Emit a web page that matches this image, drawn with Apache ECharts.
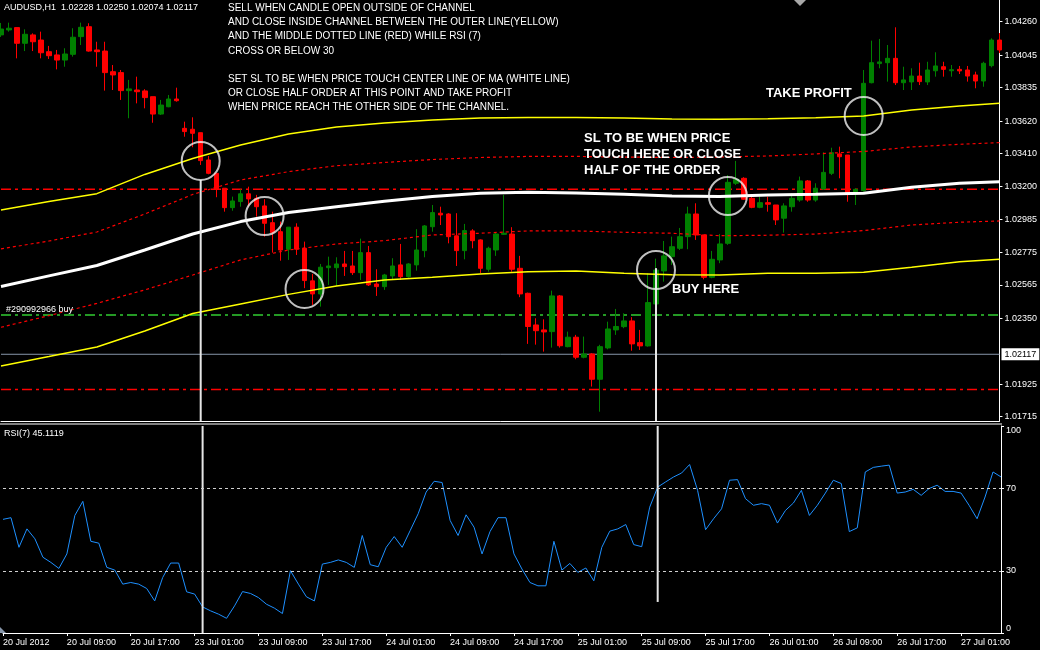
<!DOCTYPE html>
<html>
<head>
<meta charset="utf-8">
<script src="https://cdn.jsdelivr.net/npm/echarts@6/dist/echarts.min.js"></script>
<style>
html,body{margin:0;padding:0;background:#000;}
#c{width:1040px;height:650px;}
</style>
</head>
<body>
<div id="c"></div>
<script>
// ---- time categories (hourly bars, weekend skipped) ----
const dayRanges = [['20 Jul',1,23],['23 Jul',0,23],['24 Jul',0,23],['25 Jul',0,23],['26 Jul',0,23],['27 Jul',0,6]];
const categories = [];
dayRanges.forEach(([d,a,b]) => { for (let h=a; h<=b; h++) categories.push(d + ' ' + String(h).padStart(2,'0') + ':00'); });
const firstTickLabel = '20 Jul 2012';

// ---- OHLC (AUDUSD H1) ----
const open = [1.04175,1.04207,1.04222,1.04121,1.04175,1.04142,1.04067,1.04046,1.04013,1.04050,
1.04164,1.04228,1.04078,1.04071,1.03938,1.03932,1.03816,1.03820,1.03814,1.03777,
1.03665,1.03712,1.03762,1.03573,1.03567,1.03545,1.03369,1.03283,1.03187,1.03062,
1.03101,1.03151,1.03122,1.03073,1.02965,1.02907,1.02794,1.02936,1.02800,1.02590,
1.02506,1.02675,1.02675,1.02699,1.02686,1.02643,1.02772,1.02570,1.02553,1.02622,
1.02693,1.02617,1.02693,1.02785,1.02939,1.03026,1.03021,1.02880,1.02785,1.02912,
1.02854,1.02665,1.02789,1.02890,1.02892,1.02671,1.02510,1.02306,1.02274,1.02263,
1.02493,1.02166,1.02227,1.02098,1.02119,1.01956,1.02158,1.02274,1.02295,1.02332,
1.02192,1.02171,1.02441,1.02654,1.02746,1.02800,1.02875,1.03021,1.02886,1.02613,
1.02725,1.02832,1.03219,1.03251,1.03122,1.03064,1.03094,1.03079,1.02994,1.03068,
1.03111,1.03234,1.03111,1.03182,1.03283,1.03408,1.03401,1.03155,1.03171,1.03867,
1.03990,1.03996,1.04024,1.03867,1.03872,1.03910,1.03872,1.03944,1.03970,1.03944,
1.03953,1.03949,1.03917,1.03878,1.03977,1.04142];
const close = [1.04213,1.04218,1.04121,1.04179,1.04131,1.04060,1.04041,1.04013,1.04052,1.04160,
1.04224,1.04071,1.04067,1.03932,1.03917,1.03816,1.03827,1.03809,1.03771,1.03665,
1.03723,1.03762,1.03751,1.03552,1.03541,1.03365,1.03283,1.03182,1.03062,1.03105,
1.03151,1.03118,1.03068,1.02961,1.02901,1.02789,1.02936,1.02794,1.02592,1.02506,
1.02678,1.02686,1.02699,1.02682,1.02643,1.02772,1.02564,1.02553,1.02628,1.02686,
1.02617,1.02699,1.02789,1.02944,1.03030,1.03015,1.02875,1.02785,1.02914,1.02849,
1.02671,1.02800,1.02892,1.02897,1.02665,1.02506,1.02296,1.02269,1.02261,1.02493,
1.02172,1.02227,1.02098,1.02119,1.01956,1.02166,1.02280,1.02296,1.02332,1.02184,
1.02171,1.02450,1.02660,1.02751,1.02810,1.02875,1.03021,1.02886,1.02613,1.02729,
1.02828,1.03225,1.03245,1.03116,1.03064,1.03094,1.03084,1.02983,1.03073,1.03122,
1.03234,1.03111,1.03187,1.03289,1.03416,1.03390,1.03155,1.03180,1.03863,1.03996,
1.04001,1.04024,1.03867,1.03885,1.03910,1.03874,1.03949,1.03975,1.03953,1.03951,
1.03943,1.03910,1.03878,1.03992,1.04142,1.04078];
const low = [1.04162,1.04196,1.04024,1.04071,1.04071,1.04024,1.04020,1.03953,1.03970,1.04035,
1.04110,1.04067,1.03970,1.03816,1.03820,1.03756,1.03638,1.03734,1.03702,1.03609,
1.03659,1.03709,1.03745,1.03519,1.03451,1.03337,1.03277,1.03129,1.03036,1.03042,
1.03068,1.03068,1.03004,1.02875,1.02772,1.02720,1.02725,1.02757,1.02543,1.02435,
1.02424,1.02564,1.02557,1.02622,1.02628,1.02596,1.02557,1.02493,1.02532,1.02596,
1.02596,1.02611,1.02656,1.02742,1.02907,1.02950,1.02832,1.02686,1.02729,1.02800,
1.02639,1.02649,1.02751,1.02886,1.02649,1.02485,1.02184,1.02179,1.02134,1.02160,
1.02160,1.02162,1.02085,1.02091,1.01909,1.01747,1.02149,1.02242,1.02285,1.02140,
1.02145,1.02166,1.02385,1.02585,1.02693,1.02789,1.02794,1.02854,1.02600,1.02607,
1.02704,1.02822,1.03208,1.03111,1.03058,1.03058,1.03036,1.02950,1.02901,1.03036,
1.03100,1.03100,1.03100,1.03176,1.03272,1.03251,1.03100,1.03079,1.03165,1.03863,
1.03960,1.03874,1.03852,1.03820,1.03820,1.03852,1.03852,1.03906,1.03906,1.03906,
1.03923,1.03874,1.03831,1.03841,1.03966,1.04058];
const high = [1.04252,1.04254,1.04222,1.04211,1.04185,1.04196,1.04104,1.04078,1.04089,1.04218,
1.04254,1.04250,1.04131,1.04131,1.03981,1.03949,1.03885,1.03906,1.03825,1.03777,
1.03756,1.03788,1.03835,1.03616,1.03644,1.03545,1.03395,1.03283,1.03187,1.03133,
1.03180,1.03197,1.03144,1.03116,1.03036,1.02972,1.02936,1.02961,1.02843,1.02635,
1.02699,1.02746,1.02742,1.02783,1.02783,1.02862,1.02815,1.02665,1.02635,1.02736,
1.02828,1.02704,1.02923,1.02950,1.03079,1.03068,1.03026,1.03026,1.02957,1.02923,
1.02858,1.02810,1.02901,1.03144,1.02936,1.02751,1.02514,1.02349,1.02342,1.02527,
1.02499,1.02263,1.02242,1.02231,1.02124,1.02178,1.02327,1.02409,1.02381,1.02356,
1.02274,1.02639,1.02733,1.02847,1.02875,1.02931,1.03068,1.03090,1.02886,1.02783,
1.02892,1.03272,1.03363,1.03258,1.03133,1.03133,1.03133,1.03079,1.03090,1.03155,
1.03262,1.03240,1.03219,1.03419,1.03448,1.03455,1.03401,1.03187,1.03949,1.04138,
1.04149,1.04110,1.04224,1.03970,1.03960,1.03996,1.04002,1.04063,1.04002,1.03981,
1.03975,1.03975,1.03938,1.04002,1.04153,1.04187];

// ---- moving average channel, read at every 6th bar ----
const maIdx   = [0,6,12,18,24,30,36,42,48,54,60,66,72,78,84,90,96,102,108,114,120,125];
const maMid   = [1.02554,1.02622,1.02689,1.02789,1.02892,1.02972,1.03031,1.03068,1.03103,1.03133,1.03155,1.03161,1.03157,1.03148,1.03137,1.03133,1.03144,1.03148,1.03155,1.03193,1.03219,1.03229];
const envUp1  = [1.02796,1.02847,1.02905,1.03021,1.03147,1.03240,1.03294,1.03332,1.03353,1.03372,1.03385,1.03392,1.03392,1.03388,1.03385,1.03388,1.03395,1.03408,1.03424,1.03453,1.03470,1.03481];
const envLo1  = [1.02291,1.02366,1.02445,1.02532,1.02628,1.02725,1.02789,1.02828,1.02849,1.02886,1.02897,1.02912,1.02912,1.02903,1.02897,1.02881,1.02884,1.02892,1.02914,1.02950,1.02968,1.02976];
const envUp2  = [1.03047,1.03101,1.03152,1.03276,1.03379,1.03466,1.03537,1.03582,1.03608,1.03627,1.03640,1.03643,1.03643,1.03640,1.03633,1.03631,1.03635,1.03642,1.03653,1.03691,1.03717,1.03734];
const envLo2  = [1.02042,1.02102,1.02164,1.02267,1.02380,1.02441,1.02503,1.02557,1.02596,1.02613,1.02635,1.02649,1.02654,1.02639,1.02630,1.02628,1.02639,1.02639,1.02646,1.02678,1.02714,1.02729];

// ---- RSI(7) ----
const rsi = [54.9,55.7,41.4,50.3,45.5,36.6,34.1,31.2,38.2,56.8,
63.6,44.3,43.4,31.7,30.4,23.6,24.4,23.6,21.5,15.5,
26.8,33.8,33.8,19.9,18.8,12.6,10.7,9.1,7.1,13.1,
20.0,19.1,17.1,13.9,12.0,9.4,30.1,23.6,17.5,15.5,
33.3,34.1,35.3,34.1,31.7,47.1,33.0,32.0,41.4,46.6,
41.4,49.5,57.6,68.1,73.3,72.7,54.4,47.1,57.1,51.1,
38.2,49.0,55.7,55.7,38.2,30.9,24.4,22.8,22.8,44.3,
30.4,33.6,29.3,31.4,25.2,41.4,49.2,50.3,52.4,42.7,
41.7,60.8,70.5,73.0,75.4,77.3,81.4,68.9,49.9,55.2,
60.0,73.8,74.1,64.9,61.7,62.5,61.7,53.1,59.2,62.8,
68.9,56.8,61.7,67.6,73.8,72.2,49.0,50.8,77.8,80.0,
80.6,81.1,67.6,68.1,69.4,66.5,69.8,71.4,68.4,68.4,
67.6,61.7,55.2,65.7,77.8,75.4];
const rsiLevels = [30, 70];

// ---- axis ticks / levels / annotations ----
const priceTicks = [1.04260,1.04045,1.03835,1.03620,1.03410,1.03200,1.02985,1.02775,1.02565,1.02350,1.01925,1.01715];
const rsiTicks = [0,30,70,100];
const priceMin = 1.01687, priceMax = 1.04400;
const tpLevel = 1.03180, openLevel = 1.02370, slLevel = 1.01890, bidLevel = 1.02117;
const circleBars = [25,33,38,82,91,108];
const circlePrices = [1.03363,1.03008,1.02538,1.02660,1.03137,1.03653];
const sellBar = 25, sellTop = 1.03240, buyBar = 82, buyTop = 1.02672, buyRsiEnd = 15;

const FONT = '"Liberation Sans", Arial, sans-serif';
const FIRST = 0, LAST = categories.length - 1;
const pairs = (xs, ys) => xs.map((x,i)=>[x, ys[i]]);
const ohlc = open.map((o,i)=>[o, close[i], low[i], high[i]]);

const chart = echarts.init(document.getElementById('c'), null, {renderer:'canvas'});
const dashDot = [10,4,3,4];
const lineSeries = (name, data, color, width, type, z, extra) => Object.assign({
  name, type:'line', xAxisIndex:0, yAxisIndex:0, data, symbol:'none', silent:true, z,
  lineStyle:{color, width, type}, itemStyle:{color}, emphasis:{disabled:true}
}, extra || {});
const levelLine = (name, v, color, type, width, extra) => lineSeries(name, [[FIRST, v],[LAST, v]], color, width, type, 2, extra);
const vLine = (name, bar, top, bottom, xi) => ({
  name, type:'line', xAxisIndex:xi, yAxisIndex:xi, data:[[bar, top],[bar, bottom]], symbol:'none', silent:true, z:4,
  lineStyle:{color:'#e6e6e6', width:2}, itemStyle:{color:'#e6e6e6'}, emphasis:{disabled:true}
});

chart.setOption({
  backgroundColor:'#000',
  animation:false,
  textStyle:{fontFamily:FONT},
  grid:[
    {left:1, right:39, top:0, height:421},
    {left:1, right:39, top:426, height:207}
  ],
  xAxis:[
    {type:'category', gridIndex:0, data:categories, boundaryGap:false,
     axisLine:{show:true, onZero:false, lineStyle:{color:'#fff', width:1}},
     axisTick:{show:false}, axisLabel:{show:false}, splitLine:{show:false}},
    {type:'category', gridIndex:1, data:categories, boundaryGap:false,
     axisLine:{show:true, onZero:false, lineStyle:{color:'#fff', width:1}},
     axisTick:{show:true, interval:7, length:3, lineStyle:{color:'#fff'}},
     axisLabel:{interval:7, color:'#fff', fontSize:9, fontFamily:FONT, align:'left', margin:5,
       formatter:(v, idx)=> idx===0 ? firstTickLabel : v},
     splitLine:{show:false}}
  ],
  yAxis:[
    {type:'value', gridIndex:0, position:'right', min:priceMin, max:priceMax, scale:true,
     axisLine:{show:true, lineStyle:{color:'#fff', width:1}},
     axisTick:{show:true, length:3, customValues:priceTicks, lineStyle:{color:'#fff'}},
     axisLabel:{customValues:priceTicks, color:'#fff', fontSize:9, fontFamily:FONT, margin:5,
       formatter:v=>v.toFixed(5)},
     splitLine:{show:false}},
    {type:'value', gridIndex:1, position:'right', min:0, max:100,
     axisLine:{show:true, lineStyle:{color:'#fff', width:1}},
     axisTick:{show:true, length:3, customValues:rsiTicks, lineStyle:{color:'#fff'}},
     axisLabel:{customValues:rsiTicks, color:'#fff', fontSize:9, fontFamily:FONT, margin:5,
       verticalAlignMinLabel:'bottom', verticalAlignMaxLabel:'top'},
     splitLine:{show:false}}
  ],
  series:[
    levelLine('TP', tpLevel, '#ff0000', dashDot, 1.4),
    levelLine('Open', openLevel, '#32cd32', dashDot, 1.4),
    levelLine('SL', slLevel, '#ff0000', dashDot, 1.4),
    levelLine('Bid', bidLevel, '#8796aa', 'solid', 1, {
      endLabel:{show:true, formatter:bidLevel.toFixed(5), color:'#000', backgroundColor:'#fff',
        padding:[2,3,1,3], fontSize:9, fontFamily:FONT, distance:2}}),
    {name:'AUDUSD', type:'candlestick', xAxisIndex:0, yAxisIndex:0, data:ohlc, barWidth:5, clip:false, z:3,
     silent:true,
     itemStyle:{color:'#008000', color0:'#ff0000', borderColor:'#008000', borderColor0:'#ff0000', borderWidth:1}},
    lineSeries('Envelope upper 2', pairs(maIdx, envUp2), '#ffff00', 1.5, 'solid', 4),
    lineSeries('Envelope upper 1', pairs(maIdx, envUp1), '#ff0000', 1.2, [3,3], 4),
    lineSeries('MA', pairs(maIdx, maMid), '#ffffff', 3, 'solid', 4),
    lineSeries('Envelope lower 1', pairs(maIdx, envLo1), '#ff0000', 1.2, [3,3], 4),
    lineSeries('Envelope lower 2', pairs(maIdx, envLo2), '#ffff00', 1.5, 'solid', 4),
    vLine('sell line', sellBar, sellTop, priceMin, 0),
    vLine('buy line', buyBar, buyTop, priceMin, 0),
    {name:'marks', type:'scatter', xAxisIndex:0, yAxisIndex:0, z:6, silent:true,
     data:pairs(circleBars, circlePrices), symbol:'circle', symbolSize:38,
     itemStyle:{color:'rgba(0,0,0,0)', borderColor:'#f0f0f0', borderWidth:2}},
    {name:'RSI(7)', type:'line', xAxisIndex:1, yAxisIndex:1, data:rsi, symbol:'none', silent:true, z:3,
     lineStyle:{color:'#1e90ff', width:1}, itemStyle:{color:'#1e90ff'},
     markLine:{silent:true, symbol:['none','none'], animation:false, precision:5, label:{show:false},
       lineStyle:{color:'#d0d0d0', width:1, type:[3,3]},
       data: rsiLevels.map(v=>({yAxis:v}))}
    },
    vLine('sell line rsi', sellBar, 100, 0, 1),
    vLine('buy line rsi', buyBar, 100, buyRsiEnd, 1)
  ],
  graphic:[
    {type:'line', z:50, shape:{x1:0, y1:424, x2:1002, y2:424}, style:{stroke:'#fff', lineWidth:1}},
    {type:'polygon', z:50, shape:{points:[[794,0],[806,0],[800,6]]}, style:{fill:'#a8a8a8'}},
    {type:'polygon', z:50, shape:{points:[[0,627],[0,633],[6,633]]}, style:{fill:'#8796aa'}},
    {type:'text', z:60, x:4, y:8, style:{text:'AUDUSD,H1  1.02228 1.02250 1.02074 1.02117', fill:'#fff', font:'9px '+FONT, verticalAlign:'middle'}},
    {type:'text', z:60, x:228, y:1.3, style:{text:
      'SELL WHEN CANDLE OPEN OUTSIDE OF CHANNEL\nAND CLOSE INSIDE CHANNEL BETWEEN THE OUTER LINE(YELLOW)\nAND THE MIDDLE DOTTED LINE (RED) WHILE RSI (7)\nCROSS OR BELOW 30\n\nSET SL TO BE WHEN PRICE TOUCH CENTER LINE OF MA (WHITE LINE)\nOR CLOSE HALF ORDER AT THIS POINT AND TAKE PROFIT\nWHEN PRICE REACH THE OTHER SIDE OF THE CHANNEL.',
      fill:'#fff', font:'10px '+FONT, lineHeight:14.15, verticalAlign:'top'}},
    {type:'text', z:60, x:766, y:93, style:{text:'TAKE PROFIT', fill:'#fff', font:'bold 13px '+FONT, verticalAlign:'middle'}},
    {type:'text', z:60, x:584, y:130, style:{text:'SL TO BE WHEN PRICE\nTOUCH HERE OR CLOSE\nHALF OF THE ORDER', fill:'#fff', font:'bold 13px '+FONT, lineHeight:16, verticalAlign:'top'}},
    {type:'text', z:60, x:672, y:289, style:{text:'BUY HERE', fill:'#fff', font:'bold 13px '+FONT, verticalAlign:'middle'}},
    {type:'text', z:60, x:6, y:310, style:{text:'#290992966 buy', fill:'#fff', font:'9px '+FONT, verticalAlign:'middle'}},
    {type:'text', z:60, x:4, y:434, style:{text:'RSI(7) 45.1119', fill:'#fff', font:'9px '+FONT, verticalAlign:'middle'}}
  ]
});
</script>
</body>
</html>
